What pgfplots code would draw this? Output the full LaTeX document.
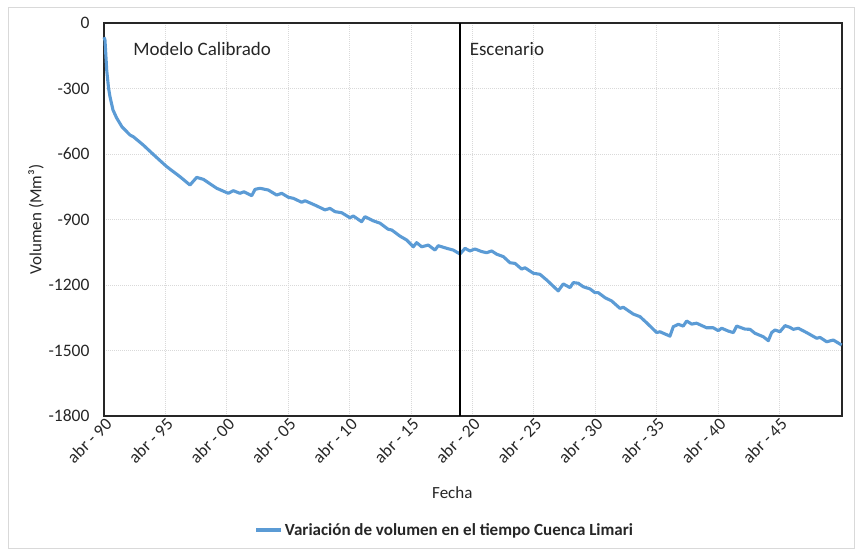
\documentclass[border=0pt]{standalone}
\usepackage{pgfplots}
\pgfplotsset{compat=1.18}
\usepackage{fontspec}
\setmainfont{Carlito}
\definecolor{exblue}{HTML}{5B9BD5}
\definecolor{gridc}{HTML}{D9D9D9}
\begin{document}
\begin{tikzpicture}[x=1pt,y=1pt]
\path (0,0) rectangle (856,550);
\draw[gridc, line width=0.8pt] (8,2) rectangle (854,543);
\begin{axis}[
  at={(104pt,134pt)}, anchor=south west,
  scale only axis, width=738pt, height=393pt,
  xmin=0, xmax=60.1, ymin=-1800, ymax=0,
  xtick={0,5,10,15,20,25,30,35,40,45,50,55},
  xticklabels={abr - 90,abr - 95,abr - 00,abr - 05,abr - 10,abr - 15,abr - 20,abr - 25,abr - 30,abr - 35,abr - 40,abr - 45},
  ytick={0,-300,-600,-900,-1200,-1500,-1800},
  /pgf/number format/assume math mode=true,
  /pgf/number format/1000 sep={},
  grid=major,
  major grid style={gridc, line width=0.8pt, dash pattern=on 1pt off 1pt},
  tick style={draw=none},
  axis line style={black!85, line width=1.2pt},
  tick label style={font=\fontsize{17.5}{19}\selectfont, black!85},
  xticklabel style={rotate=45, anchor=east, xshift=3pt, yshift=-7pt},
  yticklabel style={xshift=-11pt},
  xlabel={Fecha},
  ylabel={Volumen (Mm³)},
  xlabel style={at={(axis description cs:0.472,-0.196)}, anchor=center},
  ylabel style={at={(axis description cs:-0.092,0.5)}, anchor=center},
  label style={font=\fontsize{17}{19}\selectfont, black!85},
  legend style={at={(0.462,-0.29)}, anchor=center, draw=none, fill=none,
    font=\fontsize{17}{19}\selectfont\bfseries, text=black!85},
  legend image code/.code={\draw[#1] (0pt,0pt) -- (25pt,0pt);},
  clip=false,
]
\addplot[exblue, line width=3.1pt, line join=round] coordinates {
(0.00,-65) (0.08,-78) (0.22,-215) (0.37,-298) (0.49,-338) (0.73,-398) (1.03,-435)
(1.47,-476) (2.12,-513) (2.39,-521) (3.20,-559) (4.15,-609) (5.11,-658)
(6.19,-704) (7.00,-742) (7.55,-707) (8.09,-716) (9.18,-757) (10.12,-780)
(10.53,-768) (11.07,-780) (11.40,-773) (12.03,-791) (12.30,-762) (12.70,-757)
(13.38,-765) (14.06,-788) (14.47,-780) (15.01,-798) (15.42,-803) (16.10,-821)
(16.37,-814) (17.18,-834) (18.00,-856) (18.40,-849) (18.81,-864) (19.36,-869)
(20.03,-892) (20.30,-884) (20.98,-910) (21.25,-887) (21.93,-906) (22.48,-917)
(23.15,-945) (23.43,-948) (24.10,-976) (24.65,-994) (25.19,-1025) (25.46,-1006)
(25.87,-1025) (26.41,-1017) (26.95,-1040) (27.22,-1020) (27.91,-1032) (28.44,-1040)
(28.99,-1058) (29.40,-1032) (29.80,-1044) (30.21,-1035) (30.76,-1047) (31.16,-1052)
(31.57,-1044) (31.98,-1059) (32.52,-1070) (33.06,-1098) (33.47,-1101) (34.01,-1127)
(34.28,-1121) (34.96,-1146) (35.50,-1151) (36.05,-1177) (36.99,-1227) (37.40,-1195)
(37.95,-1212) (38.22,-1189) (38.62,-1192) (39.03,-1208) (39.58,-1218) (39.98,-1235)
(40.25,-1235) (40.80,-1258) (41.34,-1273) (42.02,-1307) (42.29,-1302) (43.10,-1333)
(43.65,-1345) (44.19,-1373) (45.01,-1418) (45.28,-1414) (45.55,-1421) (46.09,-1434)
(46.36,-1391) (46.77,-1380) (47.17,-1388) (47.45,-1365) (47.86,-1379) (48.26,-1375)
(49.08,-1396) (49.62,-1396) (50.02,-1409) (50.30,-1398) (50.84,-1411) (51.25,-1418)
(51.52,-1388) (52.20,-1402) (52.61,-1403) (53.01,-1421) (53.69,-1437) (54.10,-1455)
(54.37,-1418) (54.64,-1406) (55.05,-1414) (55.46,-1386) (55.86,-1394) (56.13,-1403)
(56.54,-1398) (57.22,-1418) (58.04,-1444) (58.31,-1440) (58.85,-1460) (59.39,-1452)
(60.07,-1475)
};
\addlegendentry{Variación de volumen en el tiempo Cuenca Limari}
\addplot[black, line width=1.8pt, forget plot] coordinates {(29.0,0) (29.0,-1800)};
\node[anchor=west, font=\fontsize{19}{22}\selectfont, black!85] at (axis cs:2.1,-119) {Modelo Calibrado};
\node[anchor=west, font=\fontsize{19}{22}\selectfont, black!85] at (axis cs:29.5,-119) {Escenario};
\end{axis}
\end{tikzpicture}
\end{document}
